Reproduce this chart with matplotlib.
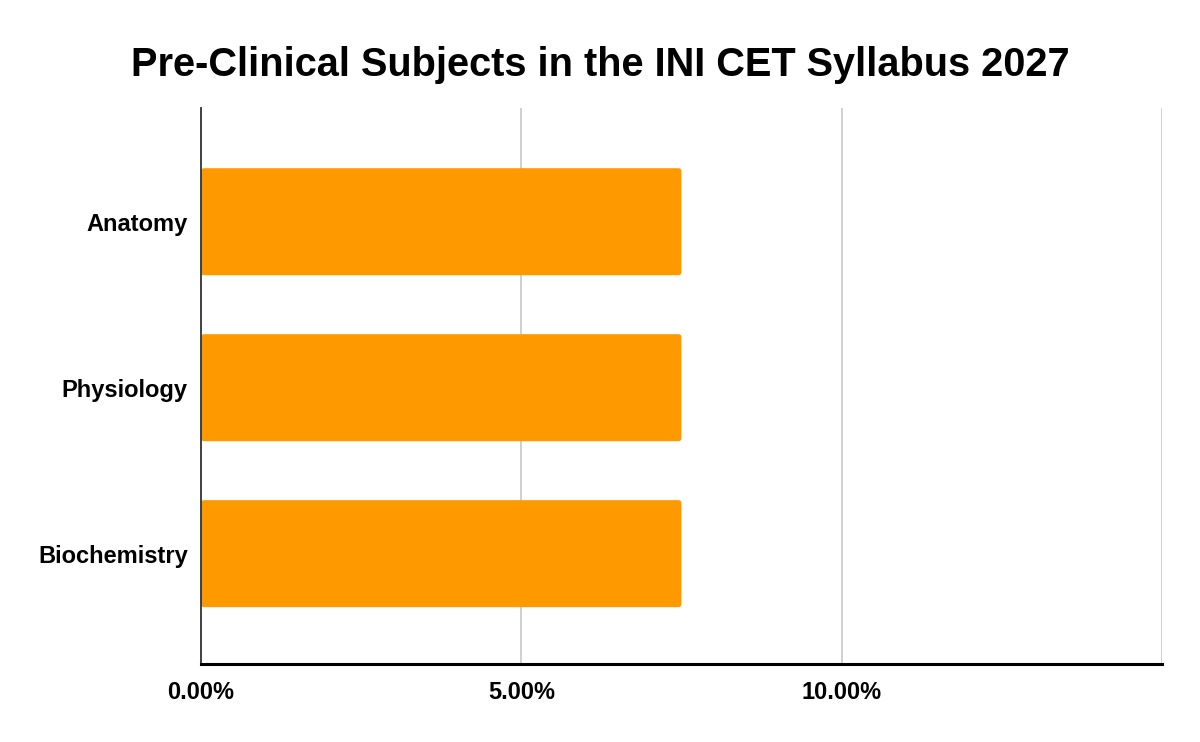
"""
plot.py — horizontal bar chart of pre-clinical subject weightage.
"""
import matplotlib
matplotlib.use("Agg")
import matplotlib.pyplot as plt
from matplotlib.patches import FancyBboxPatch
from matplotlib.ticker import FuncFormatter

plt.rcParams["font.family"] = ["Liberation Sans", "DejaVu Sans"]

subjects = ["Anatomy", "Physiology", "Biochemistry"]
weightage = [7.5, 7.5, 7.5]  # percent
x_ticks = [0, 5, 10, 15]

BAR_COLOR = "#FF9900"

fig = plt.figure(figsize=(12, 7.42), dpi=100)
ax = fig.add_axes([0.1675, 0.1051, 0.8008, 0.7493])

positions = list(range(len(subjects)))
bars = ax.barh(positions, weightage, height=0.645, color=BAR_COLOR, zorder=3)

# swap plain rectangles for slightly rounded ones
for bar in bars:
    x, y = bar.get_x(), bar.get_y()
    w, h = bar.get_width(), bar.get_height()
    rounded = FancyBboxPatch((x, y), w, h,
                             boxstyle="round,pad=0,rounding_size=0.05",
                             mutation_aspect=0.38,
                             facecolor=BAR_COLOR, edgecolor="none", zorder=3)
    bar.remove()
    ax.add_patch(rounded)

ax.set_yticks(positions)
ax.set_yticklabels(subjects, fontsize=17, fontweight="bold")
ax.set_ylim(len(subjects) - 1 + 0.665, -0.685)

ax.set_xlim(0, 15)
ax.set_xticks(x_ticks)
ax.xaxis.set_major_formatter(FuncFormatter(lambda v, _: "" if v >= 15 else f"{v:.2f}%"))
for lab in ax.get_xticklabels():
    lab.set_fontsize(17)
    lab.set_fontweight("bold")

ax.tick_params(axis="both", length=0)
ax.tick_params(axis="x", pad=12)
ax.tick_params(axis="y", pad=9.5)

ax.grid(axis="x", color="#cccccc", linewidth=1.3, zorder=0)
ax.set_axisbelow(True)

ax.spines["top"].set_visible(False)
ax.spines["right"].set_visible(False)
ax.spines["left"].set_color("#333333")
ax.spines["left"].set_linewidth(1.3)
ax.spines["left"].set_zorder(4)
ax.spines["bottom"].set_color("black")
ax.spines["bottom"].set_linewidth(2.2)
ax.spines["bottom"].set_zorder(4)

fig.suptitle("Pre-Clinical Subjects in the INI CET Syllabus 2027",
             fontsize=28.6, fontweight="bold", y=0.912, va="center")

fig.savefig("out.png", dpi=100, facecolor="white")
plt.close(fig)
